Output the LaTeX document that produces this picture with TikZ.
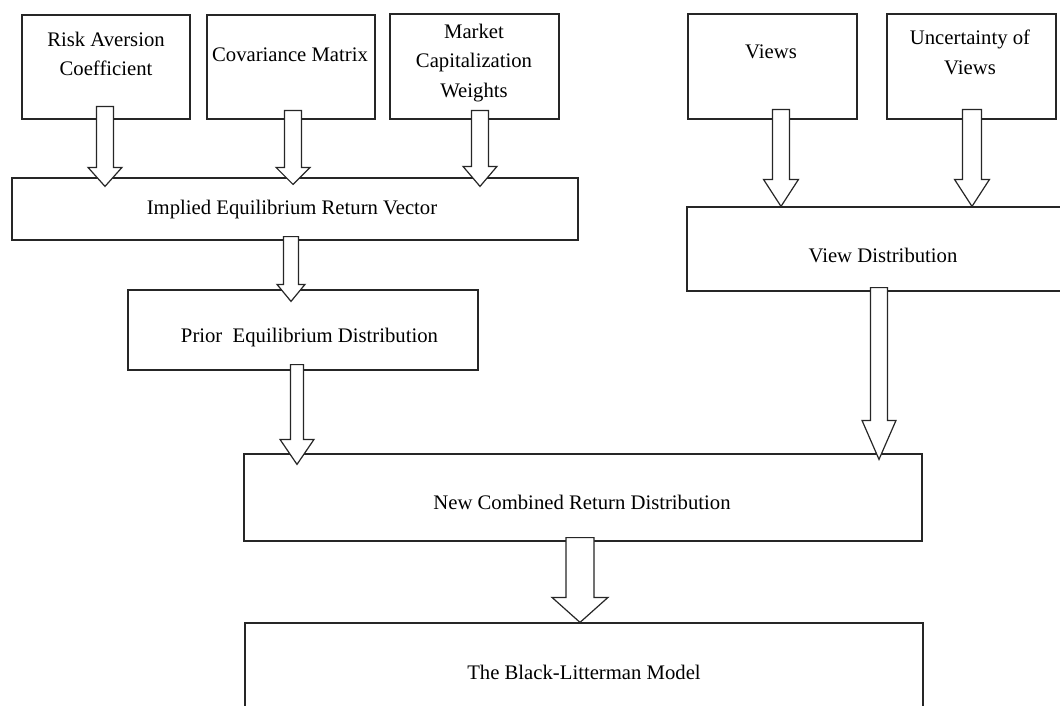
\documentclass[tikz,border=0pt]{standalone}
\usepackage{fontspec}
\setmainfont{Liberation Serif}
\usetikzlibrary{calc}
\tikzset{
  box/.style={draw=black!85, line width=1.2pt, fill=white, inner sep=0pt},
  lbl/.style={font=\fontsize{20.7}{29.5}\selectfont, align=center, inner sep=0pt},
  fat/.style={draw=black!85, line width=1.2pt, fill=white, line join=miter}
}
\begin{document}
\begin{tikzpicture}[x=1pt,y=-1pt]
\path[use as bounding box, clip] (0,0) rectangle (1060,706);
% input boxes
\node[box, minimum width=168, minimum height=104] (risk) at (106,67) {};
\node[box, minimum width=168, minimum height=104] (cov) at (291,67) {};
\node[box, minimum width=169, minimum height=105] (market) at (474.5,66.5) {};
\node[box, minimum width=169, minimum height=105] (views) at (772.5,66.5) {};
\node[box, minimum width=169, minimum height=105] (uncert) at (971.5,66.5) {};
% intermediate boxes
\node[box, minimum width=566, minimum height=62] (implied) at (295,209) {};
\node[box, minimum width=393, minimum height=84] (viewdist) at (883.5,249) {};
\node[box, minimum width=350, minimum height=80] (prior) at (303,330) {};
\node[box, minimum width=678, minimum height=87] (new) at (583,497.5) {};
\node[box, minimum width=678, minimum height=107] (bl) at (584,676.5) {};
% labels
\node[lbl] (riskLbl) at (106,54) {Risk Aversion\\Coefficient};
\node[lbl] (covLbl) at (290,55) {Covariance Matrix};
\node[lbl] (marketLbl) at (474,63) {Market\\Capitalization\\Weights};
\node[lbl] (viewsLbl) at (771,52) {Views};
\node[lbl] (uncertLbl) at (970,52.5) {Uncertainty of\\Views};
\node[lbl] (impliedLbl) at (292,210) {Implied Equilibrium Return Vector};
\node[lbl] (viewdistLbl) at (883,255) {View Distribution};
\node[lbl] (priorLbl) at (309.5,338) {Prior\enspace Equilibrium Distribution};
\node[lbl] (newLbl) at (582,502) {New Combined Return Distribution};
\node[lbl] (blLbl) at (584,672) {The Black-Litterman Model};
% block arrows: source/target/x/top overlap/tip overshoot/head length/half shaft/half head
\foreach \src/\dst/\x/\a/\b/\hl/\sw/\hw in {
    risk/implied/105/13/9/19/8.5/17, cov/implied/293/9/7/17/8.5/17,
    market/implied/480/9/9/20/8.5/17, views/viewdist/781/10/0/27/8.5/17.5,
    uncert/viewdist/972/10/0/27/9.5/17.5, implied/prior/291/4/12/17/7.5/14,
    prior/new/297/6/11/25/6.5/17, viewdist/new/879/4/6/39/8.5/17,
    new/bl/580/4/0/25/14/28} {
  \coordinate (s) at (\x,0 |- \src.south);
  \coordinate (e) at (\x,0 |- \dst.north);
  \draw[fat] ($(s)+(-\sw,-\a)$) -- ($(e)+(-\sw,\b-\hl)$) -- ($(e)+(-\hw,\b-\hl)$)
    -- ($(e)+(0,\b)$) -- ($(e)+(\hw,\b-\hl)$) -- ($(e)+(\sw,\b-\hl)$)
    -- ($(s)+(\sw,-\a)$) -- cycle;
}
\end{tikzpicture}
\end{document}
